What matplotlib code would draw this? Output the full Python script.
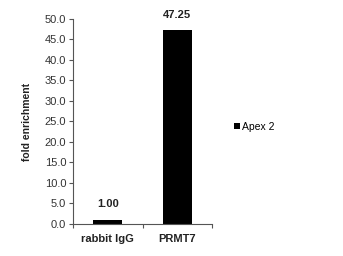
import matplotlib
matplotlib.use("Agg")
from matplotlib import pyplot as plt

# data
categories = ["rabbit IgG", "PRMT7"]
values = [1.00, 47.25]
value_labels = ["1.00", "47.25"]
series_name = "Apex 2"
yticks = [0, 5, 10, 15, 20, 25, 30, 35, 40, 45, 50]

plt.rcParams["font.family"] = ["Liberation Sans", "DejaVu Sans"]

fig = plt.figure(figsize=(3.43, 2.56), dpi=100)
ax = fig.add_axes([0.213, 0.125, 0.405, 0.801])

x = list(range(len(categories)))
bars = ax.bar(x, values, width=0.42, color="black", label=series_name)

#value labels above the bars
for xi, v, lab in zip(x, values, value_labels):
    ax.text(xi, v + 2.6, lab, ha="center", va="bottom", fontsize=8, fontweight="bold",
            color="#222222")

ax.set_xlim(-0.5, 1.5)
ax.set_ylim(0, 50)
ax.set_yticks(yticks)
ax.set_yticklabels(["%.1f" % t for t in yticks], fontsize=8, color="#333333")
ax.set_xticks(x)
ax.set_xticklabels(categories, fontsize=8, fontweight="bold", color="#222222")
ax.set_xticks([-0.5, 0.5, 1.5], minor=True)
ax.tick_params(axis="x", which="major", length=0, pad=7)
ax.tick_params(axis="x", which="minor", length=3, width=0.8, color="#555555")
ax.tick_params(axis="y", length=3, width=0.8, color="#555555", pad=2)

for s in ["top", "right"]:
    ax.spines[s].set_visible(False)
for s in ["left", "bottom"]:
    ax.spines[s].set_color("#555555")
    ax.spines[s].set_linewidth(0.8)

ax.set_ylabel("fold enrichment", fontsize=7.5, fontweight="bold", labelpad=9,
              color="#222222")

fig.legend(handles=[bars], labels=[series_name], loc="center left",
           bbox_to_anchor=(0.655, 0.505), frameon=False, fontsize=7.5,
           handlelength=0.6, handleheight=0.6, handletextpad=0.2)

plt.savefig("out.png", dpi=100)
